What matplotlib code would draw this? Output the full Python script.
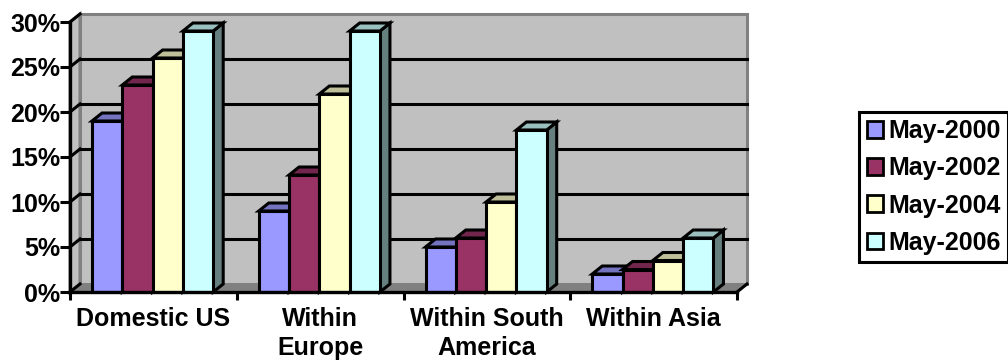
import matplotlib
matplotlib.use("Agg")
import matplotlib.pyplot as plt
from matplotlib.patches import Patch, Polygon
from matplotlib.colors import to_rgb

categories = ["Domestic US", "Within\nEurope", "Within South\nAmerica", "Within Asia"]
series_names = ["May-2000", "May-2002", "May-2004", "May-2006"]
may_2000 = [19, 9, 5, 2]
may_2002 = [23, 13, 6, 2.5]
may_2004 = [26, 22, 10, 3.5]
may_2006 = [29, 29, 18, 6]
colors = ["#9999FF", "#993366", "#FFFFCC", "#CCFFFF"]
y_ticks = [0, 5, 10, 15, 20, 25, 30]

plt.rcParams["font.family"] = ["Liberation Sans", "DejaVu Sans"]
plt.rcParams["font.weight"] = "bold"

W, H = 1008, 360
fig = plt.figure(figsize=(W / 100, H / 100), dpi=100)
# front plane of the box, in pixels: x 70..737, y 292..22
ax = fig.add_axes([70 / W, 1 - 292 / H, 667 / W, 270 / H])
ax.set_xlim(0, 4)
ax.set_ylim(0, 30)
ax.patch.set_visible(False)

# depth of the fake 3d box in data units
dx = 4 * 10 / 667
dy = 30 * 8 / 270


def shade(c, f):
    r, g, b = to_rgb(c)
    return (r * f, g * f, b * f)


def poly(pts, face, edge="black", lw=2.2, z=2):
    ax.add_patch(Polygon(pts, closed=True, facecolor=face, edgecolor=edge,
                         linewidth=lw, clip_on=False, zorder=z, joinstyle="miter"))


# back wall, side wall and floor
poly([(dx, dy), (4 + dx, dy), (4 + dx, 30 + dy), (dx, 30 + dy)], "#C0C0C0", "#808080", 2.2, 1)
poly([(0, 0), (dx, dy), (dx, 30 + dy), (0, 30)], "#C0C0C0", "#808080", 2.2, 1)
poly([(0, 0), (4, 0), (4 + dx, dy), (dx, dy)], "#808080", "#808080", 1, 1)

for t in y_ticks[1:-1]:
    ax.plot([dx, 4 + dx], [t + dy, t + dy], color="black", lw=2.2, clip_on=False, zorder=1.5)
for t in y_ticks:
    ax.plot([0, dx], [t, t + dy], color="black", lw=2.2, clip_on=False, zorder=1.5)
ax.plot([4, 4 + dx], [0, dy], color="black", lw=2.2, clip_on=False, zorder=1.5)

# bars, left to right so that each one covers the side of the previous
bar_w = 30.3 * 4 / 667
group_left = 22 * 4 / 667
values = [may_2000, may_2002, may_2004, may_2006]
for i in range(len(categories)):
    for j, vals in enumerate(values):
        x0 = i + group_left + j * bar_w
        x1 = x0 + bar_w
        v = vals[i]
        c = colors[j]
        poly([(x1, 0), (x1 + dx, dy), (x1 + dx, v + dy), (x1, v)], shade(c, 0.5), z=3 + j)
        poly([(x0, v), (x1, v), (x1 + dx, v + dy), (x0 + dx, v + dy)], shade(c, 0.75), z=3 + j)
        poly([(x0, 0), (x1, 0), (x1, v), (x0, v)], c, z=3 + j)

for s in ["top", "right"]:
    ax.spines[s].set_visible(False)
for s in ["left", "bottom"]:
    ax.spines[s].set_linewidth(2.4)
    ax.spines[s].set_zorder(10)

ax.set_yticks(y_ticks)
ax.set_yticklabels([f"{t}%" for t in y_ticks], fontsize=18)
ax.set_xticks([0, 1, 2, 3, 4])
ax.set_xticklabels([])
ax.set_xticks([0.5, 1.5, 2.5, 3.5], minor=True)
ax.set_xticklabels(categories, minor=True, fontsize=18, linespacing=1.25)
ax.tick_params(axis="y", length=7, width=2.2, pad=0)
ax.tick_params(axis="x", which="major", length=6, width=2.2)
ax.tick_params(axis="x", which="minor", length=0, pad=11)

handles = [Patch(facecolor=c, edgecolor="black", linewidth=2) for c in colors]
leg = fig.legend(handles, series_names, loc="upper left",
                 bbox_to_anchor=(859 / W, 1 - 111.5 / H), borderaxespad=0,
                 fontsize=18, fancybox=False, framealpha=1, edgecolor="black",
                 handlelength=0.66, handleheight=0.66, handletextpad=0.2,
                 labelspacing=0.53, borderpad=0.3)
leg.get_frame().set_linewidth(2.2)

fig.savefig("out.png", dpi=100)
